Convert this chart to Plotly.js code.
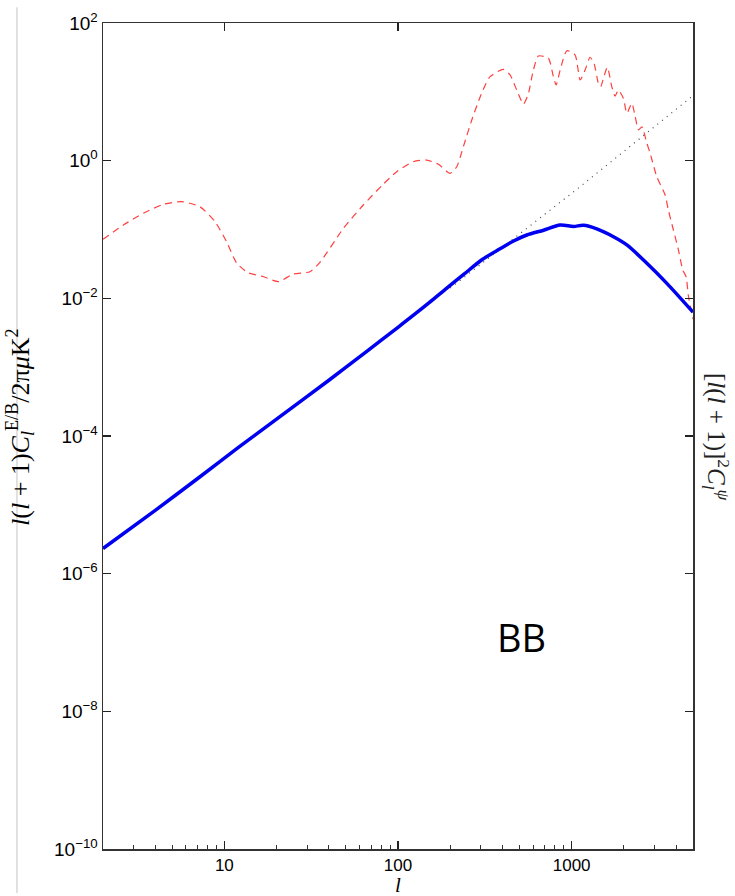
<!DOCTYPE html>
<html>
<head>
<meta charset="utf-8">
<script src="https://cdn.plot.ly/plotly-3.0.1.min.js"></script>
<style>html,body{margin:0;padding:0;background:#fff;}#chart{width:735px;height:896px;}</style>
</head>
<body>
<div id="chart"></div>
<script>
// Lensed BB spectrum (solid blue)
const bbL = [2, 4, 7.24, 12, 20.9, 40, 66.1, 100, 150, 191, 240, 300, 387, 460, 552, 689, 859, 1024, 1169, 1396, 1741, 2080, 2712, 3535, 5000];
const bbVal = [2.32e-6, 8.32e-6, 2.56e-5, 6.76e-5, 1.91e-4, 6.46e-4, 1.70e-3, 3.80e-3, 8.51e-3, 1.41e-2, 2.24e-2, 3.55e-2, 5.25e-2, 6.76e-2, 8.32e-2, 9.77e-2, 0.116, 0.111, 0.115, 0.102, 0.0785, 0.0596, 0.0323, 0.0165, 6.3e-3];

// Lensing potential [l(l+1)]^2 C_l^psi (red dashed)
const phiL = [2, 2.62, 3.41, 4.45, 5.68, 7.24, 8.84, 10.3, 11.8, 13.7, 16.8, 20.5, 24.9, 31.1, 35.5, 48.5, 63.1, 82.4, 98.4, 122.5, 146.5, 171, 199.6, 218, 238, 266, 303, 339, 404, 442, 483, 528, 564, 602, 644, 735, 785, 814, 859, 938, 1047, 1119, 1195, 1277, 1346, 1426, 1471, 1524, 1607, 1703, 1779, 1859, 1986, 2080, 2222, 2323, 2428, 2540, 2712, 2833, 3093, 3454, 3606, 3855, 4121, 4365, 4561, 4710, 5000];
const phiVal = [0.0719, 0.116, 0.172, 0.232, 0.254, 0.214, 0.130, 0.0665, 0.0323, 0.0236, 0.0206, 0.0175, 0.0225, 0.0244, 0.0333, 0.104, 0.227, 0.457, 0.692, 0.966, 1.02, 0.885, 0.655, 0.817, 1.60, 3.90, 9.53, 16.6, 21.2, 17.6, 10.6, 6.65, 9.53, 20.7, 33.2, 30.7, 16.6, 12.6, 20.7, 39.6, 34.3, 14.9, 20.7, 31.8, 25.9, 13.3, 11.9, 15.7, 22.7, 11.9, 8.69, 10.6, 8.05, 4.88, 6.81, 4.36, 2.79, 3.11, 1.79, 1.28, 0.585, 0.317, 0.192, 0.0984, 0.0504, 0.0258, 0.0206, 0.0106, 0.0050];

// Large-scale approximation (black dotted)
const approxL = [200, 405, 1119, 5000];
const approxVal = [0.0141, 0.0562, 0.419, 8.8];

// Tick labels
const yTickVals = [1e2, 1e0, 1e-2, 1e-4, 1e-6, 1e-8, 1e-10];
const yTickText = ['10<sup>2</sup>', '10<sup>0</sup>', '10<sup>\u22122</sup>', '10<sup>\u22124</sup>', '10<sup>\u22126</sup>', '10<sup>\u22128</sup>', '10<sup>\u221210</sup>'];
const xTickVals = [10, 100, 1000];
const xTickText = ['10', '100', '1000'];
const xMinorVals = [3, 4, 5, 6, 7, 8, 9, 20, 30, 40, 50, 60, 70, 80, 90, 200, 300, 400, 500, 600, 700, 800, 900, 2000, 3000, 4000, 5000];

const xRange = [Math.log10(2), Math.log10(5000)];

const traces = [
  {x: phiL, y: phiVal, type: 'scatter', mode: 'lines', xaxis: 'x', yaxis: 'y',
   line: {color: '#ff4040', width: 1.2, dash: '7px,5px', shape: 'spline', smoothing: 0.6}, hoverinfo: 'skip'},
  {x: approxL, y: approxVal, type: 'scatter', mode: 'lines', xaxis: 'x2', yaxis: 'y',
   line: {color: '#444', width: 1.2, dash: '1px,5px'}, hoverinfo: 'skip'},
  {x: bbL, y: bbVal, type: 'scatter', mode: 'lines', xaxis: 'x2', yaxis: 'y',
   line: {color: '#0000f0', width: 3.5, shape: 'spline', smoothing: 0.8}, hoverinfo: 'skip'}
];

const yFont = {family: 'Liberation Sans, Arial, sans-serif', size: 19, color: '#000'};
const xFont = {family: 'Liberation Sans, Arial, sans-serif', size: 17, color: '#000'};

const layout = {
  width: 735, height: 896,
  margin: {l: 103, r: 42, t: 23, b: 47},
  paper_bgcolor: '#ffffff', plot_bgcolor: '#ffffff',
  showlegend: false,
  xaxis: {
    type: 'log', range: xRange, tickvals: xTickVals, ticktext: xTickText,
    ticks: 'inside', ticklen: 8, tickwidth: 1.2, tickcolor: '#222',
    mirror: 'ticks', showline: true, linecolor: '#333', linewidth: 1.5,
    showgrid: false, zeroline: false, tickfont: xFont
  },
  xaxis2: {
    type: 'log', range: xRange, overlaying: 'x', anchor: 'y', side: 'bottom',
    tickvals: xMinorVals, showticklabels: false,
    ticks: 'inside', ticklen: 4, tickwidth: 1, tickcolor: '#333',
    showline: false, showgrid: false, zeroline: false
  },
  yaxis: {
    type: 'log', range: [-10, 2], tickvals: yTickVals, ticktext: yTickText,
    ticks: 'inside', ticklen: 8, tickwidth: 1.2, tickcolor: '#222',
    mirror: 'ticks', showline: true, linecolor: '#333', linewidth: 1.5,
    showgrid: false, zeroline: false, tickfont: yFont
  },
  shapes: [
    {type: 'line', xref: 'paper', yref: 'paper', x0: -0.1458, x1: -0.1458, y0: -0.0533, y1: 1.019,
     line: {color: '#c4c4c4', width: 1}}
  ],
  annotations: [
    {xref: 'paper', yref: 'paper', x: -0.1407, y: 0.511, textangle: -90, showarrow: false,
     xanchor: 'center', yanchor: 'middle',
     text: '<i>l</i>(<i>l</i> + 1)<i>C</i><sub><i>l</i></sub><sup>E/B</sup>/2π<i>μ</i>K<sup>2</sup>',
     font: {family: 'Liberation Serif, DejaVu Serif, serif', size: 26, color: '#000'}},
    {xref: 'paper', yref: 'paper', x: 1.039, y: 0.4988, textangle: 90, showarrow: false,
     xanchor: 'center', yanchor: 'middle',
     text: '[<i>l</i>(<i>l</i> + 1)]<sup>2</sup><i>C</i><sub><i>l</i></sub><sup><i>ψ</i></sup>',
     font: {family: 'Liberation Serif, DejaVu Serif, serif', size: 25, color: '#222'}},
    {xref: 'paper', yref: 'paper', x: 0.5, y: -0.0436, showarrow: false,
     xanchor: 'center', yanchor: 'middle', text: '<i>l</i>',
     font: {family: 'Liberation Serif, DejaVu Serif, serif', size: 21, color: '#000'}},
    {xref: 'paper', yref: 'paper', x: 0.710, y: 0.2567, showarrow: false,
     xanchor: 'center', yanchor: 'middle', text: 'BB',
     font: {family: 'Open Sans, Noto Sans, sans-serif', size: 38, color: '#000'}}
  ]
};

Plotly.newPlot('chart', traces, layout, {staticPlot: true, displayModeBar: false});
</script>
</body>
</html>
